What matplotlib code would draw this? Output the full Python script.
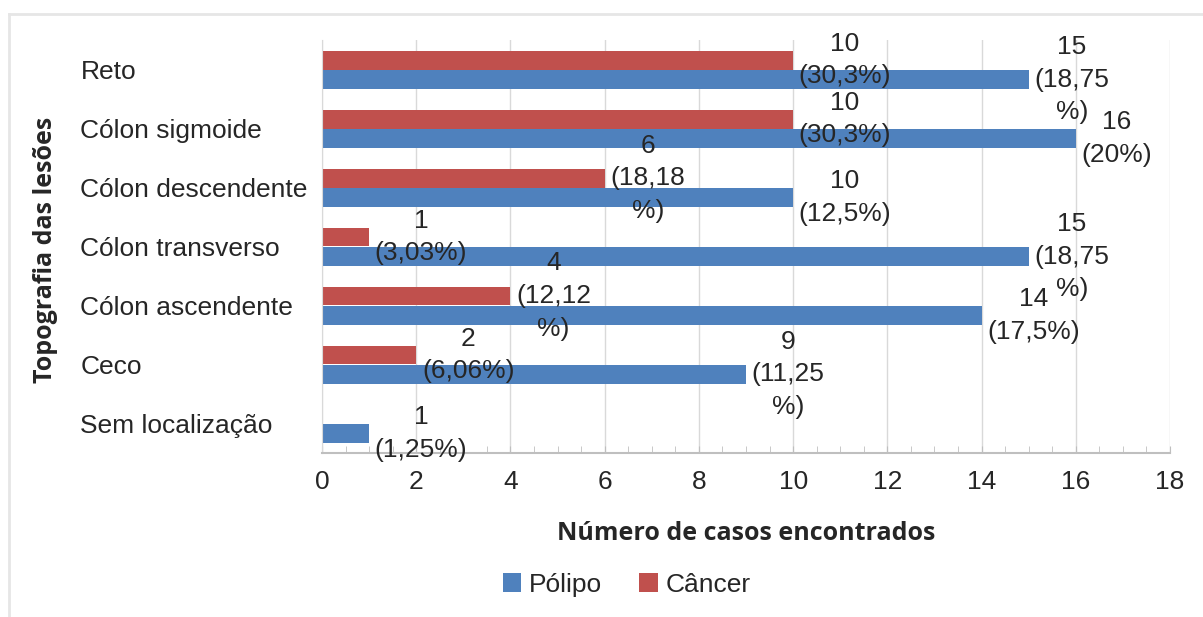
import matplotlib
matplotlib.use('Agg')
import matplotlib.pyplot as plt
from matplotlib.lines import Line2D
from matplotlib.ticker import MultipleLocator
import numpy as np

categories = ['Reto', 'Cólon sigmoide', 'Cólon descendente', 'Cólon transverso',
              'Cólon ascendente', 'Ceco', 'Sem localização']
polipo = [15, 16, 10, 15, 14, 9, 1]
cancer = [10, 10, 6, 1, 4, 2, 0]
polipo_labels = ['15\n(18,75\n%)', '16\n(20%)', '10\n(12,5%)', '15\n(18,75\n%)',
                 '14\n(17,5%)', '9\n(11,25\n%)', '1\n(1,25%)']
cancer_labels = ['10\n(30,3%)', '10\n(30,3%)', '6\n(18,18\n%)', '1\n(3,03%)',
                 '4\n(12,12\n%)', '2\n(6,06%)', '']

blue = '#4F81BD'
red = '#C0504D'
txt = '#262626'
fs = 19
plt.rcParams['font.family'] = ['Liberation Sans', 'DejaVu Sans']

fig = plt.figure(figsize=(12.03, 6.17), dpi=100)
ax = fig.add_axes([0.2677, 0.266, 0.7049, 0.669])

y = np.arange(len(categories))
h = 0.32
ax.barh(y + 0.17, polipo, height=h, color=blue, label='Pólipo')
ax.barh(y - 0.16, cancer, height=h, color=red, label='Câncer')

for yi, v, lab in zip(y, polipo, polipo_labels):
    ax.text(v + 0.12, yi + 0.17, lab, ha='left', va='center', multialignment='center',
            fontsize=fs, color=txt, linespacing=1.45)
for yi, v, lab in zip(y, cancer, cancer_labels):
    if lab:
        ax.text(v + 0.12, yi - 0.16, lab, ha='left', va='center', multialignment='center',
                fontsize=fs, color=txt, linespacing=1.45)

ax.set_xlim(0, 18)
ax.set_ylim(6.5, -0.5)
ax.set_yticks(y)
ax.set_yticklabels(categories, ha='left')
# pad in points: label left edge ~242 px left of the axis
ax.tick_params(axis='y', length=0, pad=174, labelsize=fs, labelcolor=txt)
ax.xaxis.set_major_locator(MultipleLocator(2))
ax.xaxis.set_minor_locator(MultipleLocator(0.5))
ax.tick_params(axis='x', which='both', direction='in', length=5, color='#bfbfbf',
               labelsize=fs, labelcolor=txt, pad=12)
ax.grid(axis='x', which='major', color='#d9d9d9', linewidth=1)
ax.set_axisbelow(True)
for s in ['top', 'right']:
    ax.spines[s].set_visible(False)
ax.spines['left'].set_color('#d9d9d9')
ax.spines['bottom'].set_color('#bfbfbf')
ax.spines['bottom'].set_linewidth(1.5)

ax.set_xlabel('Número de casos encontrados', fontsize=18, fontweight='bold',
              color=txt, labelpad=20, family=['Open Sans', 'DejaVu Sans'])
fig.text(0.038, 0.595, 'Topografia das lesões', rotation=90, ha='center', va='center',
         fontsize=18, fontweight='bold', color=txt, family=['Open Sans', 'DejaVu Sans'])

fig.legend(loc='center', bbox_to_anchor=(0.521, 0.052), ncol=2, frameon=False,
           fontsize=fs, handlelength=0.7, handleheight=0.7, handletextpad=0.3,
           columnspacing=1.4, labelcolor=txt)

fig.add_artist(Line2D([9/1203, 1], [1 - 14/617, 1 - 14/617], color='#e6e6e6', lw=2,
                      transform=fig.transFigure))
fig.add_artist(Line2D([9/1203, 9/1203], [0, 1 - 14/617], color='#e6e6e6', lw=2,
                      transform=fig.transFigure))

fig.savefig('out.png', dpi=100)
